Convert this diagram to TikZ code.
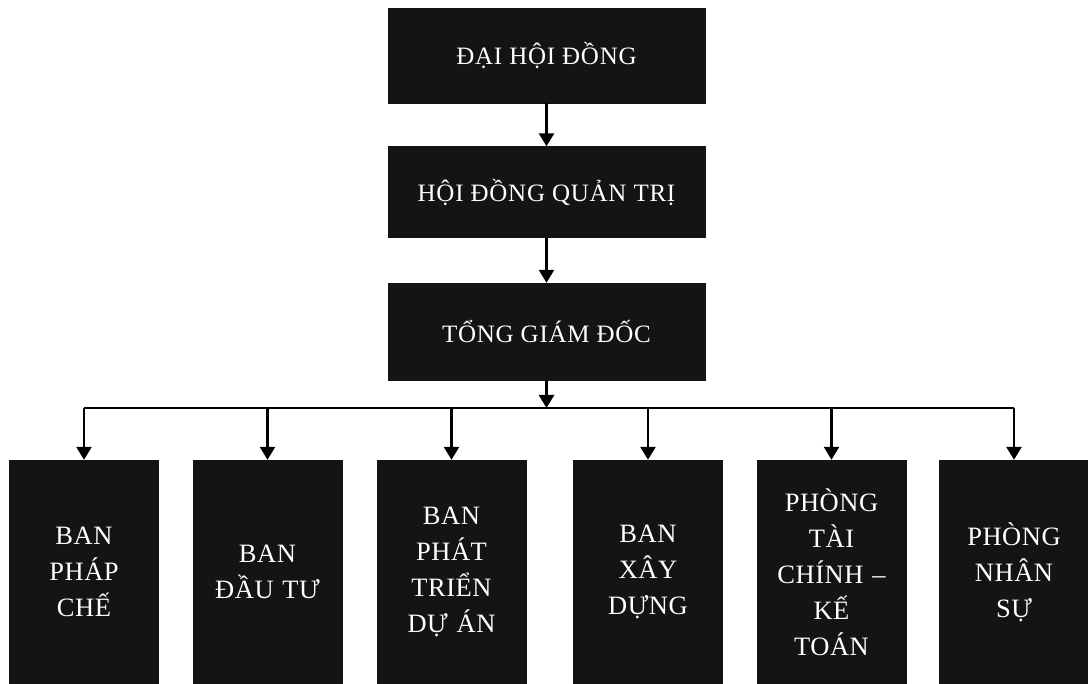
\documentclass[tikz,border=0pt]{standalone}
\usepackage{fontspec}
\setmainfont{Liberation Serif}
\newfontfamily\topfont[LetterSpace=3]{Liberation Serif}
\newfontfamily\botfont[LetterSpace=2]{Liberation Serif}
\usetikzlibrary{arrows.meta}
\begin{document}
\begin{tikzpicture}[x=1pt,y=-1pt,
  box/.style={rectangle,fill=black!92,draw=black!92,inner sep=0pt,text=white,align=center},
  topbox/.style={box,minimum width=317pt,minimum height=95pt,font=\topfont\fontsize{25}{36}\selectfont},
  botbox/.style={box,minimum width=149pt,minimum height=224pt,text width=145pt,font=\botfont\fontsize{26.5}{36}\selectfont},
  arr/.style={line width=2.6pt,-{Triangle[width=15pt,length=13pt]}},
  bus/.style={line width=2pt}]
\useasboundingbox (0,0) rectangle (1088,684);
\node[topbox] (a) at (546.5,55.5) {ĐẠI HỘI ĐỒNG};
\node[topbox,minimum height=91pt] (b) at (546.5,192) {HỘI ĐỒNG QUẢN TRỊ};
\node[topbox,minimum height=97pt] (c) at (546.5,331.5) {TỔNG GIÁM ĐỐC};
\coordinate (bus) at (546.5,408);
\node[botbox] (b1) at (84,572) {BAN\\PHÁP\\CHẾ};
\node[botbox] (b2) at (267.5,572) {BAN\\ĐẦU TƯ};
\node[botbox] (b3) at (451.5,572) {BAN\\PHÁT\\TRIỂN\\DỰ ÁN};
\node[botbox] (b4) at (648,572) {BAN\\XÂY\\DỰNG};
\node[botbox] (b5) at (831.5,572) {PHÒNG\\TÀI\\CHÍNH –\\KẾ\\TOÁN};
\node[botbox] (b6) at (1014,572) {PHÒNG\\NHÂN\\SỰ};
\draw[arr] (a.south) -- (b.north);
\draw[arr] (b.south) -- (c.north);
\draw[arr] (c.south) -- (bus);
\draw[bus] (bus -| b1.north) -- (bus -| b6.north);
\foreach \n in {b1,b2,b3,b4,b5,b6}{
  \draw[arr] (bus -| \n.north) -- (\n.north);
}
\end{tikzpicture}
\end{document}
